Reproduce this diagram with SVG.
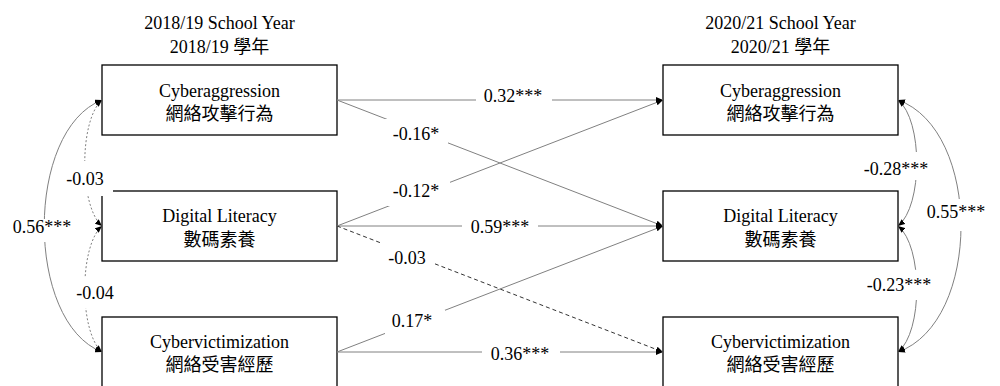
<svg xmlns="http://www.w3.org/2000/svg" width="1000" height="386" viewBox="0 0 1000 386">
<style>
.box{fill:#fff;stroke:#000;stroke-width:1.3}
.t{font-family:"Liberation Serif","Noto Sans CJK TC",serif;font-size:18px;fill:#000;text-anchor:middle}
.ln{fill:none;stroke:#808080;stroke-width:1}
.dash{stroke:#333;stroke-dasharray:4 3}
.dot{stroke-dasharray:2 2}
.bg{fill:#fff}
</style>
<defs>
<marker id="ah" viewBox="0 0 7 6" refX="7" refY="3" markerWidth="7" markerHeight="6" markerUnits="userSpaceOnUse" orient="auto-start-reverse">
<path d="M0,0 L7,3 L0,6 z" fill="#000"/>
</marker>
</defs>
<rect width="1000" height="386" fill="#fff"/>
<g id="headers">
<text class="t" x="219.5" y="29">2018/19 School Year</text>
<text class="t" x="219.5" y="53">2018/19 學年</text>
<text class="t" x="780.5" y="29">2020/21 School Year</text>
<text class="t" x="780.5" y="53">2020/21 學年</text>
</g>
<g id="ca1"><rect class="box" x="102" y="65" width="235" height="70"/><text class="t" x="219.5" y="97">Cyberaggression</text><text class="t" x="219.5" y="120">網絡攻擊行為</text></g>
<g id="dl1"><rect class="box" x="102" y="191" width="235" height="70"/><text class="t" x="219.5" y="222">Digital Literacy</text><text class="t" x="219.5" y="245.5">數碼素養</text></g>
<g id="cv1"><rect class="box" x="102" y="317" width="235" height="70"/><text class="t" x="219.5" y="348">Cybervictimization</text><text class="t" x="219.5" y="371">網絡受害經歷</text></g>
<g id="ca2"><rect class="box" x="663" y="65" width="235" height="70"/><text class="t" x="780.5" y="97">Cyberaggression</text><text class="t" x="780.5" y="120">網絡攻擊行為</text></g>
<g id="dl2"><rect class="box" x="663" y="191" width="235" height="70"/><text class="t" x="780.5" y="222">Digital Literacy</text><text class="t" x="780.5" y="245.5">數碼素養</text></g>
<g id="cv2"><rect class="box" x="663" y="317" width="235" height="70"/><text class="t" x="780.5" y="348">Cybervictimization</text><text class="t" x="780.5" y="371">網絡受害經歷</text></g>
<g id="connectors">
<path class="ln" d="M337,100 L663,100" marker-end="url(#ah)"/>
<path class="ln" d="M337,100 L663,226" marker-end="url(#ah)"/>
<path class="ln" d="M337,226 L663,100" marker-end="url(#ah)"/>
<path class="ln" d="M337,226 L663,226" marker-end="url(#ah)"/>
<path class="ln dash" d="M337,226 L663,352" marker-end="url(#ah)"/>
<path class="ln" d="M337,352 L663,226" marker-end="url(#ah)"/>
<path class="ln" d="M337,352 L663,352" marker-end="url(#ah)"/>
<path class="ln" d="M102,100 C25,130 25,322 102,352" marker-start="url(#ah)" marker-end="url(#ah)"/>
<path class="ln dot" d="M102,100 C79,120 79,206 102,226" marker-start="url(#ah)" marker-end="url(#ah)"/>
<path class="ln dot" d="M102,226 C79,246 79,332 102,352" marker-start="url(#ah)" marker-end="url(#ah)"/>
<path class="ln" d="M898,100 C923,120 923,206 898,226" marker-start="url(#ah)" marker-end="url(#ah)"/>
<path class="ln" d="M898,100 C982,130 982,322 898,352" marker-start="url(#ah)" marker-end="url(#ah)"/>
<path class="ln" d="M898,226 C923,246 923,332 898,352" marker-start="url(#ah)" marker-end="url(#ah)"/>
<rect class="bg" x="476" y="88" width="76" height="24"/><text class="t" x="513" y="102">0.32***</text>
<rect class="bg" x="385" y="119" width="63" height="26"/><text class="t" x="416" y="140">-0.16*</text>
<rect class="bg" x="388" y="181" width="62" height="25"/><text class="t" x="416" y="197">-0.12*</text>
<rect class="bg" x="462" y="214" width="76" height="24"/><text class="t" x="500" y="233">0.59***</text>
<rect class="bg" x="379" y="243" width="56" height="26"/><text class="t" x="407" y="264">-0.03</text>
<rect class="bg" x="385" y="310" width="60" height="24"/><text class="t" x="412" y="327">0.17*</text>
<rect class="bg" x="482" y="340" width="78" height="24"/><text class="t" x="520" y="360">0.36***</text>
<rect class="bg" x="8" y="219" width="68" height="23"/><text class="t" x="42" y="233">0.56***</text>
<rect class="bg" x="64" y="161" width="49" height="35"/><text class="t" x="85" y="185">-0.03</text>
<rect class="bg" x="74" y="277" width="42" height="31"/><text class="t" x="95" y="299">-0.04</text>
<rect class="bg" x="861" y="152" width="71" height="28"/><text class="t" x="896" y="175">-0.28***</text>
<rect class="bg" x="925" y="199" width="64" height="32"/><text class="t" x="956" y="218">0.55***</text>
<rect class="bg" x="864" y="270" width="70" height="30"/><text class="t" x="899" y="291">-0.23***</text>
</g>
</svg>
